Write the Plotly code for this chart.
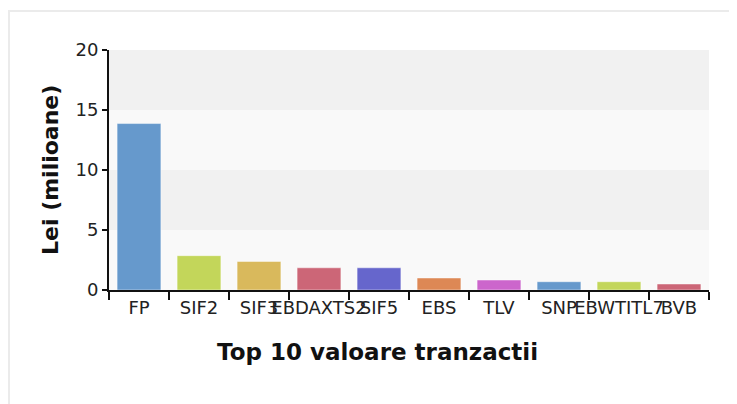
import plotly.graph_objects as go

categories = ["FP", "SIF2", "SIF3", "EBDAXTS2", "SIF5", "EBS", "TLV", "SNP", "EBWTITL7", "BVB"]
values = [13.87, 2.86, 2.38, 1.85, 1.85, 1.0, 0.83, 0.69, 0.69, 0.5]
colors = ["#6699CC", "#C3D65A", "#D9B95C", "#CC6677", "#6666CC",
          "#DD8855", "#CC66CC", "#6699CC", "#C3D65A", "#CC6677"]
y_ticks = [0, 5, 10, 15, 20]
band_colors = ["#F9F9F9", "#F1F1F1", "#F9F9F9", "#F1F1F1"]
x_title = "Top 10 valoare tranzactii"
y_title = "Lei (milioane)"

# the page body adds an 8px offset, so the figure is sized to the remaining window
W, H = 729, 396
ML, MR, MT, MB = 101, 28, 42, 114
plot_w = W - ML - MR
plot_h = H - MT - MB

fig = go.Figure()
fig.add_trace(go.Bar(
    x=categories, y=values,
    marker=dict(color=colors, line=dict(color="rgba(255,255,255,0.45)", width=1)),
    hoverinfo="x+y",
))

shapes = []
for i in range(len(y_ticks) - 1):
    shapes.append(dict(type="rect", xref="paper", yref="y", x0=0, x1=1,
                       y0=y_ticks[i], y1=y_ticks[i + 1],
                       fillcolor=band_colors[i], line=dict(width=0), layer="below"))
# outer light border (left and top edges visible)
shapes.append(dict(type="rect", xref="paper", yref="paper",
                   x0=(1 - ML) / plot_w, x1=(W + 20 - ML) / plot_w,
                   y0=-(MB + 20) / plot_h, y1=(plot_h + MT - 3) / plot_h,
                   line=dict(color="#EBEBEB", width=2), fillcolor="rgba(0,0,0,0)", layer="below"))

font_family = "DejaVu Sans, Verdana, sans-serif"
annotations = [
    dict(text="<b>" + x_title + "</b>", xref="paper", yref="paper",
         x=(369 - ML) / plot_w, y=(MT + plot_h - 344) / plot_h,
         xanchor="center", yanchor="middle", showarrow=False,
         font=dict(size=23, family=font_family, color="#111111")),
    dict(text="<b>" + y_title + "</b>", xref="paper", yref="paper",
         x=(42 - ML) / plot_w, y=0.5, textangle=-90,
         xanchor="center", yanchor="middle", showarrow=False,
         font=dict(size=22, family=font_family, color="#111111")),
]

fig.update_layout(
    width=W, height=H,
    margin=dict(l=ML, r=MR, t=MT, b=MB),
    paper_bgcolor="white", plot_bgcolor="white",
    showlegend=False, bargap=0.27,
    shapes=shapes, annotations=annotations,
    font=dict(family=font_family, color="#222222"),
    xaxis=dict(
        type="category", tickson="boundaries", ticks="outside", ticklen=8,
        tickwidth=2, tickcolor="#111111",
        showline=True, linecolor="#111111", linewidth=2,
        showgrid=False, tickangle=0,
        tickfont=dict(size=18, family=font_family, color="#222222"),
    ),
    yaxis=dict(
        range=[0, 20], tickvals=y_ticks, ticks="outside", ticklen=5, tickwidth=2,
        tickcolor="#111111", showline=True, linecolor="#111111", linewidth=2,
        showgrid=False, zeroline=False,
        tickfont=dict(size=18, family=font_family, color="#222222"),
    ),
)

fig.write_html("out.html")
